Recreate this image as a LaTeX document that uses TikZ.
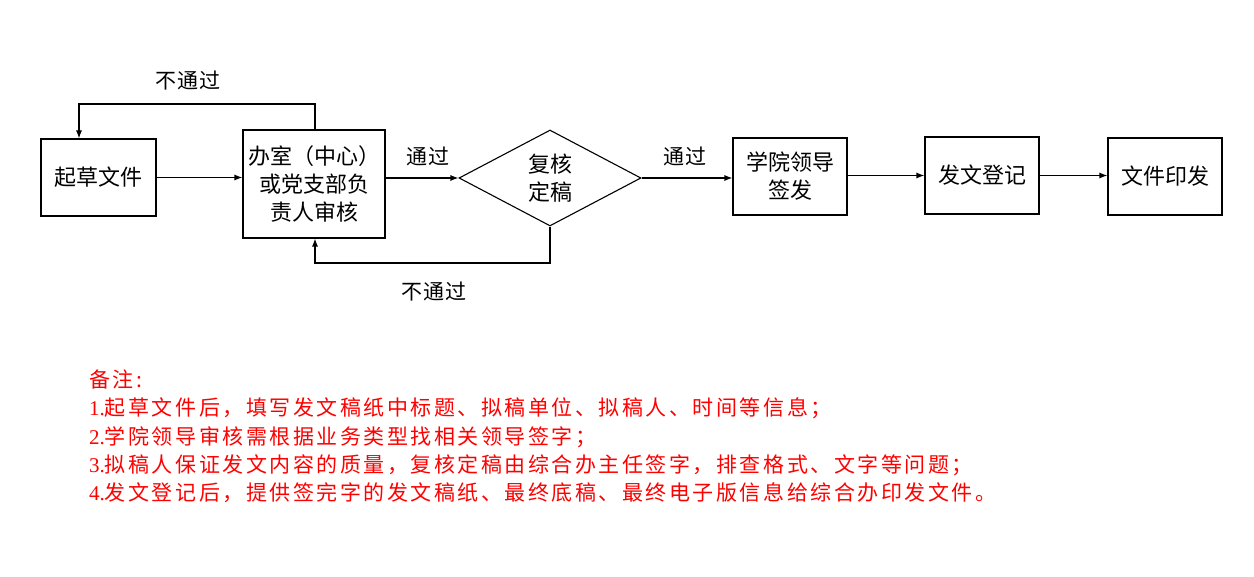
\documentclass[tikz,border=0pt]{standalone}
\usepackage{fontspec}
\setmainfont{Noto Sans CJK SC}
\newfontfamily\notefont{Noto Sans CJK SC}[LetterSpace=12]
\newfontfamily\lblfont{Noto Sans CJK SC}[LetterSpace=6]
\newfontfamily\numfont{Liberation Serif}
\usetikzlibrary{arrows.meta,shapes.geometric}
\begin{document}
\begin{tikzpicture}[x=1pt,y=-1pt,
  box/.style={draw,line width=1.1pt,inner sep=0pt,align=center,font=\fontsize{22}{28}\selectfont},
  lbl/.style={inner sep=0pt,font=\lblfont\fontsize{21}{24}\selectfont},
  conn/.style={line width=1.1pt,-{Latex[length=8pt,width=6pt]}},
  note/.style={inner sep=0pt,anchor=west,text=red,font=\notefont\fontsize{21}{24}\selectfont}]
\useasboundingbox (0,0) rectangle (1254,577);
\node[box,minimum width=115pt,minimum height=77pt] (b1) at (98.5,177.5) {起草文件};
\node[box,minimum width=142pt,minimum height=108pt] (b2) at (314,184) {办室（中心）\\或党支部负\\责人审核};
\node[draw,line width=1.1pt,diamond,aspect=1.9,minimum width=182pt,minimum height=96pt,inner sep=0pt,align=center,font=\fontsize{22}{28}\selectfont] (d) at (550,178) {复核\\定稿};
\node[box,minimum width=114pt,minimum height=77pt] (b3) at (790,176.5) {学院领导\\签发};
\node[box,minimum width=114pt,minimum height=77pt] (b4) at (982,175.5) {发文登记};
\node[box,minimum width=114pt,minimum height=77pt] (b5) at (1165,176.5) {文件印发};
\draw[conn] (b1.east) -- (b2.west |- b1.east);
\draw[conn] (b2.east |- d.west) -- (d.west);
\draw[conn] (d.east) -- (b3.west |- d.east);
\draw[conn] (b3.east |- b4.west) -- (b4.west);
\draw[conn] (b4.east) -- (b5.west |- b4.east);
\coordinate (t1) at (315,104);
\coordinate (t2) at (79,104);
\draw[conn] (b2.north -| t1) -- (t1) -- (t2) -- (b1.north -| t2);
\coordinate (u1) at (550,263);
\coordinate (u2) at (315,263);
\draw[conn] (d.south) -- (u1) -- (u2) -- (b2.south -| u2);
\node[lbl] (l1) at (188,81) {不通过};
\node[lbl] (l2) at (434,292) {不通过};
\node[lbl] (l3) at (428,156) {通过};
\node[lbl] (l4) at (685,156) {通过};
\node[note] (n0) at (89,379) {备注:};
\node[note] (n1) at (89,408) {{\numfont 1.}起草文件后，填写发文稿纸中标题、拟稿单位、拟稿人、时间等信息；};
\node[note] (n2) at (89,437) {{\numfont 2.}学院领导审核需根据业务类型找相关领导签字；};
\node[note] (n3) at (89,465) {{\numfont 3.}拟稿人保证发文内容的质量，复核定稿由综合办主任签字，排查格式、文字等问题；};
\node[note] (n4) at (89,493) {{\numfont 4.}发文登记后，提供签完字的发文稿纸、最终底稿、最终电子版信息给综合办印发文件。};
\end{tikzpicture}
\end{document}
